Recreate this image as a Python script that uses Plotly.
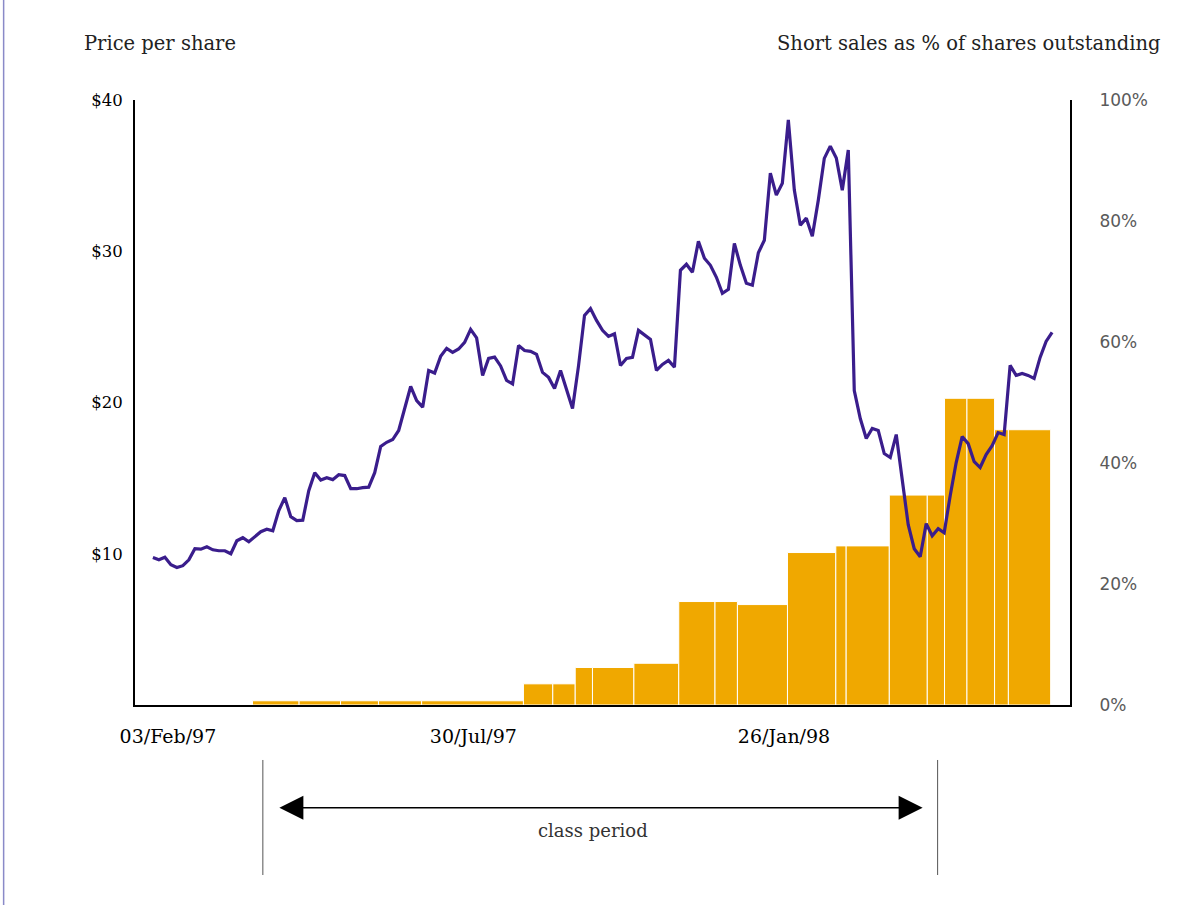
import pandas as pd
import plotly.graph_objects as go

# ---------------- data ----------------
# Share price (USD) at evenly spaced dates
price_start = "1997-01-25 07:00"
price_end = "1998-06-30 08:00"
price = [
    9.75, 9.60, 9.77, 9.27, 9.09, 9.21, 9.60, 10.33, 10.30, 10.46,
    10.26, 10.20, 10.20, 10.00, 10.86, 11.06, 10.79, 11.16, 11.46, 11.62,
    11.52, 12.85, 13.71, 12.45, 12.19, 12.22, 14.17, 15.36, 14.87, 15.03,
    14.90, 15.23, 15.17, 14.30, 14.30, 14.37, 14.40, 15.36, 17.09, 17.37,
    17.55, 18.15, 19.69, 21.06, 20.13, 19.69, 22.12, 21.95, 23.05, 23.58,
    23.31, 23.54, 23.97, 24.83, 24.27, 21.79, 22.91, 23.00, 22.42, 21.46,
    21.23, 23.77, 23.44, 23.38, 23.18, 21.99, 21.66, 20.93, 22.12, 20.93,
    19.60, 22.42, 25.76, 26.21, 25.43, 24.77, 24.37, 24.55, 22.45, 22.91,
    22.98, 24.77, 24.50, 24.17, 22.12, 22.52, 22.78, 22.34, 28.74, 29.14,
    28.61, 30.66, 29.54, 29.07, 28.28, 27.22, 27.48, 30.51, 29.07, 27.88,
    27.75, 29.90, 30.73, 35.17, 33.71, 34.50, 38.68, 34.04, 31.72, 32.19,
    30.99, 33.38, 36.14, 36.95, 36.16, 34.04, 36.69, 20.79, 18.94, 17.62,
    18.28, 18.15, 16.62, 16.36, 17.88, 14.70, 11.92, 10.33, 9.80, 11.99,
    11.19, 11.66, 11.39, 13.84, 16.03, 17.75, 17.28, 16.09, 15.70, 16.56,
    17.15, 18.01, 17.88, 22.45, 21.79, 21.92, 21.79, 21.59, 22.98, 24.04,
    24.64,
]

# Short sales as % of shares outstanding (step periods)
short_start = [
    "1997-03-24", "1997-04-20", "1997-05-14", "1997-06-05", "1997-06-30",
    "1997-08-28", "1997-09-14", "1997-09-27", "1997-10-07", "1997-10-31",
    "1997-11-26", "1997-12-17", "1997-12-30", "1998-01-28", "1998-02-25",
    "1998-03-03", "1998-03-28", "1998-04-19", "1998-04-29", "1998-05-12",
    "1998-05-28", "1998-06-05",
]
short_end_last = "1998-06-29 12:00"
short_pct = [
    0.7, 0.7, 0.7, 0.7, 0.7,
    3.5, 3.5, 6.2, 6.2, 6.9,
    17.1, 17.1, 16.6, 25.2, 26.3,
    26.3, 34.7, 34.7, 50.7, 50.7,
    45.5, 45.5,
]

# Axis ticks
x_tick_dates = ["1997-02-03", "1997-07-30", "1998-01-26"]
x_tick_text = ["03/Feb/97", "30/Jul/97", "26/Jan/98"]
price_ticks = [10, 20, 30, 40]
price_tick_text = ["$10", "$20", "$30", "$40"]
pct_ticks = [0, 20, 40, 60, 80, 100]
pct_tick_text = ["0%", "20%", "40%", "60%", "80%", "100%"]

class_start = "1997-03-30"
class_end = "1998-04-25"

# ---------------- build ----------------
price_dates = pd.date_range(price_start, price_end, periods=len(price))
starts = pd.to_datetime(short_start)
ends = list(starts[1:]) + [pd.Timestamp(short_end_last)]
widths = [(e - s).total_seconds() * 1000 for s, e in zip(starts, ends)]

SERIF = "DejaVu Serif, Liberation Serif, serif"
SANS = "DejaVu Sans, Liberation Sans, sans-serif"

fig = go.Figure()
fig.add_trace(go.Bar(
    x=starts, y=short_pct, width=widths, offset=0,
    marker=dict(color="#F0A800", line=dict(color="white", width=1)),
    yaxis="y", hoverinfo="skip", showlegend=False,
))
fig.add_trace(go.Scatter(
    x=price_dates, y=price, mode="lines",
    line=dict(color="#3A1D8C", width=3.2),
    yaxis="y2", hoverinfo="skip", showlegend=False,
))

fig.update_layout(
    width=1202, height=905,
    margin=dict(l=135, r=132, t=100, b=200, pad=0),
    paper_bgcolor="white", plot_bgcolor="white",
    showlegend=False,
    xaxis=dict(
        type="date", range=["1997-01-14 22:00", "1998-07-10 17:00"],
        showgrid=False, zeroline=False, showline=True,
        linecolor="black", linewidth=2,
        tickvals=x_tick_dates, ticktext=x_tick_text,
        tickfont=dict(family=SERIF, size=19, color="black"),
        ticks="", ticklabelstandoff=13,
    ),
    yaxis=dict(
        range=[0, 100], side="right",
        showgrid=False, zeroline=False, showline=True,
        linecolor="black", linewidth=2,
        tickvals=pct_ticks, ticktext=pct_tick_text,
        tickfont=dict(family=SANS, size=17, color="#5a5a5a"),
        ticks="", ticklabelstandoff=24,
    ),
    yaxis2=dict(
        range=[0, 40], side="left", overlaying="y",
        showgrid=False, zeroline=False, showline=True,
        linecolor="black", linewidth=2,
        tickvals=price_ticks, ticktext=price_tick_text,
        tickfont=dict(family=SERIF, size=16.5, color="black"),
        ticks="", ticklabelstandoff=7,
    ),
    annotations=[
        dict(text="Price per share", xref="paper", yref="paper",
             x=-0.057, y=1.094, xanchor="left", yanchor="middle",
             showarrow=False, font=dict(family=SERIF, size=19.5, color="#222")),
        dict(text="Short sales as % of shares outstanding", xref="paper", yref="paper",
             x=1.0995, y=1.094, xanchor="right", yanchor="middle",
             showarrow=False, font=dict(family=SERIF, size=19.5, color="#222")),
        dict(text="", x=class_end, y=-0.17, xref="x", yref="paper",
             ax=class_start, ay=0, axref="x", ayref="pixel",
             showarrow=True, arrowside="end+start",
             arrowhead=2, startarrowhead=2, arrowsize=3.2, startarrowsize=3.2,
             arrowwidth=1.5, arrowcolor="black", standoff=15, startstandoff=15),
        dict(text="class period", xref="paper", yref="paper",
             x=0.4898, y=-0.207, xanchor="center", yanchor="middle",
             showarrow=False, font=dict(family=SERIF, size=18, color="#333")),
    ],
    shapes=[
        dict(type="line", xref="x", yref="paper", x0=class_start, x1=class_start,
             y0=-0.0909, y1=-0.281, line=dict(color="#555555", width=1)),
        dict(type="line", xref="x", yref="paper", x0=class_end, x1=class_end,
             y0=-0.0909, y1=-0.281, line=dict(color="#555555", width=1)),
        dict(type="line", xref="paper", yref="paper", x0=-0.1405, x1=-0.1405,
             y0=1.2, y1=-0.35, line=dict(color="#8A8AC8", width=1.5)),
    ],
)

fig.write_html("out.html", config={"displayModeBar": False},
               post_script="document.body.style.margin='0';")
